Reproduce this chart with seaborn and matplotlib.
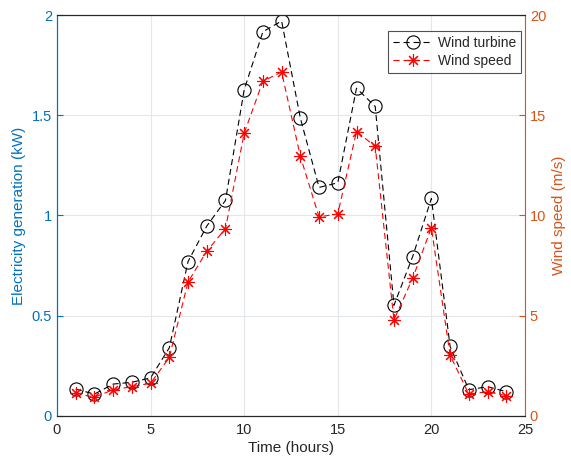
import matplotlib
matplotlib.use("Agg")
import matplotlib.pyplot as plt
import seaborn as sns
import pandas as pd

hours = list(range(1, 25))
turbine_kw = [0.134, 0.109, 0.159, 0.168, 0.19, 0.34, 0.77, 0.947, 1.075, 1.627,
              1.917, 1.97, 1.486, 1.14, 1.163, 1.635, 1.544, 0.552, 0.795, 1.085,
              0.347, 0.131, 0.146, 0.121]
wind_ms = [1.14, 0.93, 1.31, 1.46, 1.63, 2.92, 6.68, 8.22, 9.34, 14.1,
           16.7, 17.16, 12.95, 9.93, 10.08, 14.19, 13.45, 4.79, 6.87, 9.39,
           3.03, 1.09, 1.21, 1.01]

sns.set_style("white")
plt.rcParams['font.family'] = ['Liberation Sans', 'DejaVu Sans']

blue = '#0072BD'
orange = '#D95319'
dash = (0, (5.5, 3.5))

df = pd.DataFrame({'hour': hours, 'kw': turbine_kw, 'ws': wind_ms})

fig = plt.figure(figsize=(5.71, 4.70), dpi=100)
ax = fig.add_axes([0.0998, 0.115, 0.8196, 0.853])
ax2 = ax.twinx()

sns.lineplot(data=df, x='hour', y='kw', ax=ax, color='black', linestyle=dash,
             linewidth=0.8, marker='o', markersize=9.5, markerfacecolor='none',
             markeredgecolor='black', markeredgewidth=0.8, label='Wind turbine',
             legend=False)
sns.lineplot(data=df, x='hour', y='ws', ax=ax2, color='red', linestyle=dash,
             linewidth=0.8, marker=(8, 2, 0), markersize=9,
             markeredgecolor='red', markeredgewidth=0.8, label='Wind speed',
             legend=False)

ax.set_xlim(0, 25)
ax.set_ylim(0, 2)
ax2.set_ylim(0, 20)
ax.set_xticks([0, 5, 10, 15, 20, 25])
ax.set_yticks([0, 0.5, 1, 1.5, 2])
ax.set_yticklabels(['0', '0.5', '1', '1.5', '2'])
ax2.set_yticks([0, 5, 10, 15, 20])

ax.grid(True, color='#e3e6ea', linewidth=0.8)
ax.set_axisbelow(True)

ax.set_xlabel('Time (hours)', fontsize=11, color='#262626', labelpad=3)
ax.set_ylabel('Electricity generation (kW)', fontsize=11, color=blue)
ax2.set_ylabel('Wind speed (m/s)', fontsize=11, color=orange)

ax.tick_params(axis='x', direction='in', colors='#262626', labelsize=10.5, length=4, pad=5)
ax.tick_params(axis='y', direction='in', colors=blue, labelsize=10.5, length=4)
ax2.tick_params(axis='y', direction='in', colors=orange, labelsize=10.5, length=4)

for s in ['top', 'bottom']:
    ax.spines[s].set_color('#262626')
    ax2.spines[s].set_color('#262626')
    ax.spines[s].set_linewidth(0.8)
    ax2.spines[s].set_linewidth(0.8)
ax.spines['left'].set_color(blue)
ax2.spines['left'].set_color(blue)
ax2.spines['right'].set_color(orange)
ax.spines['right'].set_visible(False)
for s in ['left', 'right']:
    ax2.spines[s].set_linewidth(0.8)
    ax.spines[s].set_linewidth(0.8)

h1, l1 = ax.get_legend_handles_labels()
h2, l2 = ax2.get_legend_handles_labels()
leg = ax2.legend(h1 + h2, l1 + l2, loc='upper right', fontsize=10,
                 frameon=True, fancybox=False, edgecolor='#262626',
                 borderpad=0.35, labelspacing=0.3, handlelength=2.8,
                 handletextpad=0.4, borderaxespad=0,
                 bbox_to_anchor=(0.991, 0.96))
leg.get_frame().set_linewidth(0.8)

fig.savefig('out.png', dpi=100)
